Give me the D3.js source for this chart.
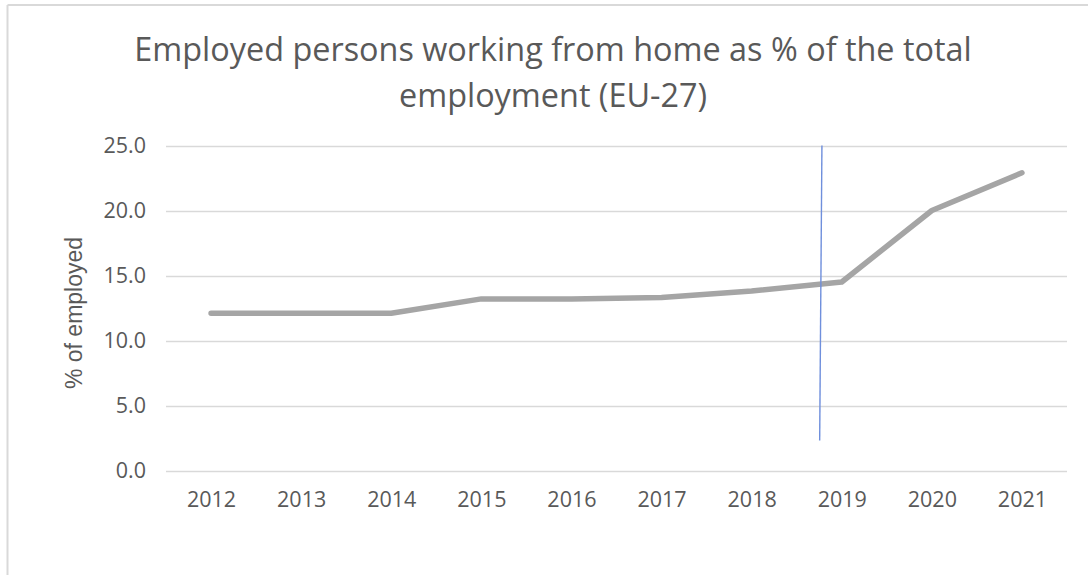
<!DOCTYPE html>
<html>
<head>
<meta charset="utf-8">
<script src="https://cdn.jsdelivr.net/npm/d3@7"></script>
<style>
  html, body { margin: 0; padding: 0; background: #fff; }
  svg { display: block; }
</style>
</head>
<body>
<svg id="chart" width="1088" height="575"></svg>
<script>
// ---- data ----
const titleLines = ["Employed persons working from home as % of the total", "employment (EU-27)"];
const years = ["2012", "2013", "2014", "2015", "2016", "2017", "2018", "2019", "2020", "2021"];
const wfhShare = [12.1, 12.1, 12.1, 13.2, 13.2, 13.3, 13.8, 14.5, 20.0, 22.9];
const yTicks = [0, 5, 10, 15, 20, 25];
const yAxisTitle = "% of employed";
// hand-drawn marker line between 2018 and 2019 (fraction of the way from 2018 to 2019)
const markerFrom = { year: "2018", frac: 0.78, value: 25.0 };
const markerTo   = { year: "2018", frac: 0.755, value: 2.3 };

// ---- layout ----
const W = 1088, H = 575;
const plot = { left: 166, right: 1067, top: 145.5, bottom: 470.5 };
const textColor = "#595959";

const svg = d3.select("#chart");

// chart border (only top and left visible in the reference)
svg.append("line").attr("x1", 7.5).attr("x2", W).attr("y1", 5).attr("y2", 5)
  .attr("stroke", "#d9d9d9").attr("stroke-width", 2);
svg.append("line").attr("x1", 7.5).attr("x2", 7.5).attr("y1", 5).attr("y2", H)
  .attr("stroke", "#d9d9d9").attr("stroke-width", 2);

const x = d3.scalePoint().domain(years).range([plot.left, plot.right]).padding(0.5);
const y = d3.scaleLinear().domain([0, 25]).range([plot.bottom, plot.top]);

// gridlines
svg.append("g").selectAll("line").data(yTicks).join("line")
  .attr("x1", plot.left).attr("x2", plot.right)
  .attr("y1", d => Math.round(y(d)) + 0.5).attr("y2", d => Math.round(y(d)) + 0.5)
  .attr("stroke", "#d9d9d9").attr("stroke-width", 1.5);

// y axis labels
const yAxis = d3.axisLeft(y).tickValues(yTicks).tickFormat(d3.format(".1f")).tickSize(0).tickPadding(0);
const gy = svg.append("g").attr("transform", `translate(146,0)`).call(yAxis);
gy.select(".domain").remove();
gy.selectAll("text").attr("fill", textColor)
  .style("font-family", "'Open Sans', sans-serif").style("font-size", "21.5px");

// x axis labels
const xAxis = d3.axisBottom(x).tickSize(0).tickPadding(0);
const gx = svg.append("g").attr("transform", `translate(0,492)`).call(xAxis);
gx.select(".domain").remove();
gx.selectAll("text").attr("fill", textColor)
  .style("font-family", "'Open Sans', sans-serif").style("font-size", "21.5px");

// y axis title
svg.append("text")
  .attr("transform", `translate(82,313) rotate(-90)`)
  .attr("text-anchor", "middle")
  .attr("fill", textColor)
  .style("font-family", "'Liberation Sans', Arial, sans-serif")
  .style("font-size", "23px")
  .text(yAxisTitle);

// title
const title = svg.append("text").attr("text-anchor", "middle").attr("fill", textColor)
  .style("font-family", "'Open Sans', sans-serif").style("font-size", "32.4px");
title.selectAll("tspan").data(titleLines).join("tspan")
  .attr("x", 553).attr("y", (d, i) => 61 + i * 46).text(d => d);

// series line
const line = d3.line().x((d, i) => x(years[i])).y(d => y(d));
svg.append("path").datum(wfhShare)
  .attr("d", line)
  .attr("fill", "none")
  .attr("stroke", "#a5a5a5")
  .attr("stroke-width", 5.5)
  .attr("stroke-linejoin", "round")
  .attr("stroke-linecap", "round");

// marker line
const step = x.step();
svg.append("line")
  .attr("x1", x(markerFrom.year) + markerFrom.frac * step).attr("y1", y(markerFrom.value))
  .attr("x2", x(markerTo.year) + markerTo.frac * step).attr("y2", y(markerTo.value))
  .attr("stroke", "#6f8fdc").attr("stroke-width", 1.4);
</script>
</body>
</html>
